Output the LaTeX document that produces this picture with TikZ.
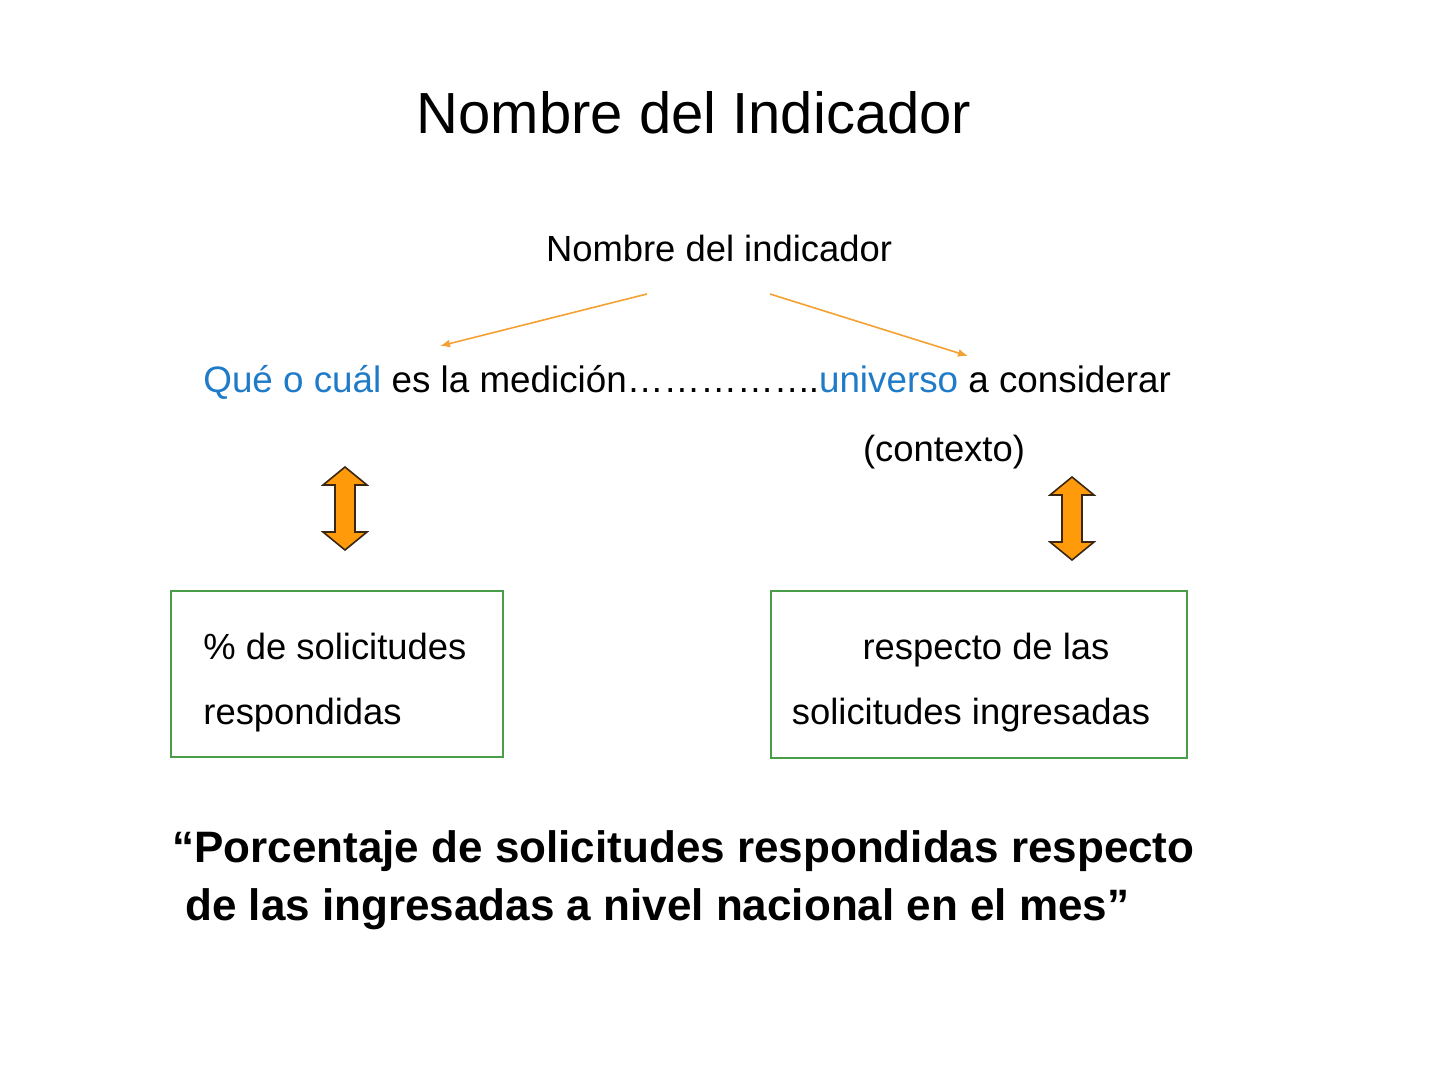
\documentclass[tikz,border=0pt]{standalone}
\usepackage{fontspec}
\setmainfont{Liberation Sans}
\definecolor{qblue}{HTML}{1F7BC8}
\definecolor{aorange}{HTML}{F5A032}
\definecolor{dorange}{HTML}{FF9A0A}
\definecolor{bgreen}{HTML}{4A9E4A}
\begin{document}
\begin{tikzpicture}[x=0.5pt,y=-0.5pt,
  txt/.style={inner sep=0pt,font=\fontsize{18.2}{22}\selectfont},
  thin arrow/.style={draw=aorange,line width=0.8pt,-{Latex[length=5pt,width=4pt]}},
  greenbox/.style={draw=bgreen,line width=1pt},
  dbl/.style={fill=dorange,draw=black!70!brown,line width=0.8pt,line join=miter}]
\usetikzlibrary{arrows.meta}
\useasboundingbox (0,0) rectangle (1440,1080);
% title
\node[inner sep=0pt,anchor=base,font=\fontsize{29}{34}\selectfont] (title) at (694,134) {Nombre del Indicador};
% sub heading
\node[txt,anchor=base] (nom) at (719,262) {Nombre del indicador};
\coordinate (nl) at (647,294);
\coordinate (nr) at (770,294);
\coordinate (al) at (440,346);
\coordinate (ar) at (968,356);
\draw[thin arrow] (nl) -- (al);
\draw[thin arrow] (nr) -- (ar);
% main line
\node[txt,anchor=base west,font=\fontsize{18.4}{22}\selectfont] (line) at (203,393) {\textcolor{qblue}{Qué o cuál} es la medición……………\kern-1pt.\textcolor{qblue}{universo} a considerar};
\node[txt,anchor=base] (ctx) at (944,461) {(contexto)};
% double arrows
\foreach \cx/\ty/\by in {345/467/550, 1072/477/560}{
  \draw[dbl] (\cx,\ty) -- (\cx+22,\ty+18) -- (\cx+10,\ty+18) -- (\cx+10,\by-18) -- (\cx+22,\by-18)
    -- (\cx,\by) -- (\cx-22,\by-18) -- (\cx-10,\by-18) -- (\cx-10,\ty+18) -- (\cx-22,\ty+18) -- cycle;
}
% boxes
\draw[greenbox] (171,591) rectangle (503,757);
\node[txt,anchor=base west] (b1a) at (203,659) {\% de solicitudes};
\node[txt,anchor=base west] (b1b) at (203,724) {respondidas};
\draw[greenbox] (771,591) rectangle (1187,758);
\node[txt,anchor=base] (b2a) at (986,659) {respecto de las};
\node[txt,anchor=base] (b2b) at (971,724) {solicitudes ingresadas};
% bottom quote
\node[inner sep=0pt,anchor=base west,font=\bfseries\fontsize{22}{26}\selectfont] (q1) at (172,862) {“Porcentaje de solicitudes respondidas respecto};
\node[inner sep=0pt,anchor=base west,font=\bfseries\fontsize{22}{26}\selectfont] (q2) at (185,920) {de las ingresadas a nivel nacional en el mes”};
\end{tikzpicture}
\end{document}
